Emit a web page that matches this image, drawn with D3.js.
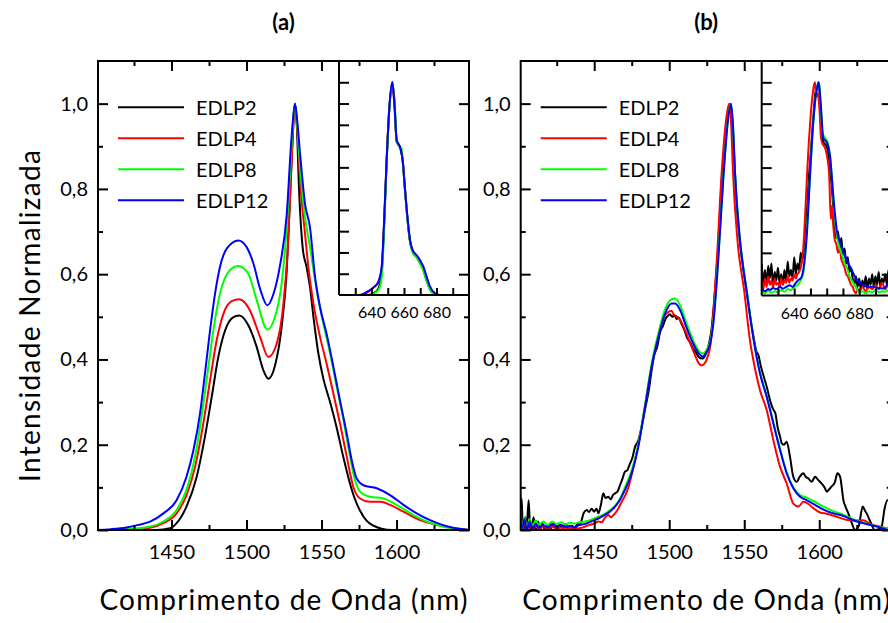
<!DOCTYPE html>
<html><head><meta charset="utf-8">
<script src="https://cdn.jsdelivr.net/npm/d3@7"></script>
<style>body{margin:0;background:#fff} svg{display:block} text{font-family:Lato,"Open Sans",sans-serif;fill:#000}</style>
</head><body><svg id="chart" width="888" height="623"></svg>
<script>
// ---------- labels ----------
const seriesNames = ["EDLP2","EDLP4","EDLP8","EDLP12"];
const seriesColors = ["#000000","#ff0000","#00ff00","#0000ff"];
const panelTitles = ["(a)","(b)"];
const xTitle = "Comprimento de Onda (nm)";
const yTitle = "Intensidade Normalizada";
const xMajorTicks = [1450,1500,1550,1600];
const xMinorTicks = [1425,1475,1525,1575,1625];
const yMajorTicks = [0,0.2,0.4,0.6,0.8,1.0];
const yMinorTicks = [0.1,0.3,0.5,0.7,0.9];
const insetXMajor = [640,660,680];
const insetXMinor = [630,650,670,690];
const insetYTicks = [0.1,0.2,0.3,0.4,0.5,0.6,0.7,0.8,0.9,1.0];

// ---------- panel (a) main spectra [nm, intensity] ----------
const a_EDLP2 = [[1401,0],[1440,0],[1449,0.004],[1453.4,0.016],[1460,0.055],[1466.8,0.125],[1472.3,0.219],[1476.8,0.312],[1481.2,0.406],[1485.7,0.468],[1490.8,0.498],[1495.2,0.503],[1501.2,0.48],[1506.8,0.429],[1511.2,0.375],[1514.6,0.355],[1519,0.386],[1523.4,0.476],[1526.8,0.609],[1529,0.78],[1530.5,0.9],[1532.3,1.0],[1533.5,0.95],[1535,0.8],[1537.5,0.66],[1540,0.617],[1542.3,0.57],[1544.6,0.5],[1547.9,0.414],[1551.2,0.355],[1555.7,0.3],[1560.1,0.24],[1564.6,0.17],[1568.5,0.115],[1572,0.075],[1575.7,0.045],[1580,0.022],[1584.6,0.01],[1590,0.003],[1597,0],[1648.3,0]];
const a_EDLP4 = [[1401,0],[1420,0.001],[1430,0.003],[1435.7,0.005],[1444.6,0.016],[1453.4,0.039],[1460,0.082],[1465.7,0.148],[1471.2,0.25],[1475.7,0.351],[1480.1,0.445],[1484.6,0.507],[1490.1,0.537],[1495.2,0.541],[1502.3,0.515],[1509,0.453],[1514.6,0.406],[1520.1,0.437],[1524.6,0.531],[1527.5,0.66],[1530,0.86],[1532.3,1.0],[1533.8,0.94],[1535.7,0.82],[1539,0.695],[1541.2,0.617],[1544.6,0.531],[1549,0.453],[1553.4,0.39],[1557.9,0.32],[1562.3,0.25],[1566.8,0.172],[1571.2,0.101],[1575.7,0.074],[1582.3,0.066],[1589,0.066],[1595.7,0.059],[1604.6,0.043],[1615.7,0.023],[1626.8,0.012],[1637.9,0.004],[1648.3,0]];
const a_EDLP8 = [[1401,0],[1420,0.002],[1435.7,0.008],[1444.6,0.02],[1453.4,0.047],[1460,0.094],[1465.7,0.172],[1470,0.265],[1474.6,0.383],[1477.9,0.468],[1482.3,0.554],[1487.9,0.605],[1494.5,0.619],[1501.2,0.601],[1506.8,0.539],[1513.9,0.47],[1519,0.5],[1523.4,0.578],[1527,0.72],[1530,0.9],[1532.3,1.0],[1533.8,0.95],[1535.7,0.85],[1539,0.734],[1542.3,0.664],[1546.8,0.562],[1551.2,0.484],[1555.7,0.414],[1560.1,0.336],[1564.6,0.258],[1569,0.172],[1572.3,0.117],[1575.7,0.09],[1582.3,0.078],[1591.2,0.074],[1600.1,0.059],[1611.2,0.035],[1622.3,0.017],[1633.4,0.006],[1644.6,0.001],[1648.3,0]];
const a_EDLP12 = [[1401,0],[1410,0.002],[1420,0.006],[1428,0.012],[1435.7,0.0195],[1444.6,0.039],[1453.4,0.07],[1460,0.125],[1464.6,0.187],[1469,0.273],[1472.3,0.367],[1475.7,0.468],[1479,0.554],[1482.3,0.617],[1486.8,0.66],[1494.6,0.679],[1500,0.664],[1504.6,0.625],[1509,0.566],[1513.9,0.527],[1518,0.554],[1522.3,0.62],[1526.8,0.74],[1530,0.92],[1532.3,1.0],[1533.8,0.96],[1535.7,0.882],[1539,0.765],[1542.3,0.71],[1545.7,0.593],[1549,0.523],[1553.4,0.46],[1557.9,0.383],[1562.3,0.304],[1566.8,0.226],[1570.1,0.164],[1573.4,0.121],[1577.9,0.105],[1586.8,0.098],[1595.7,0.082],[1604.6,0.059],[1613.4,0.039],[1622.3,0.023],[1633.4,0.009],[1644.6,0.0015],[1648.3,0]];

// ---------- panel (a) inset [nm, intensity] ----------
const ai_EDLP2 = [[620,0],[638,0],[640,0.004],[642.5,0.015],[644.5,0.035],[646.3,0.11],[647.7,0.32],[649.3,0.625],[651,0.88],[652.8,1.0],[654.1,0.91],[655.5,0.725],[656.5,0.71],[657.9,0.688],[659.2,0.63],[660.6,0.495],[662.1,0.36],[663.7,0.252],[665.3,0.205],[667.8,0.178],[669.8,0.152],[671.9,0.118],[673.9,0.068],[676,0.027],[678.5,0.005],[680.5,0],[700,0]];
const ai_EDLP4 = [[620,0],[634,0],[636,0.006],[639,0.02],[642,0.04],[644.2,0.058],[646.3,0.13],[647.7,0.33],[649.3,0.63],[651,0.88],[652.8,0.985],[654.1,0.89],[655.5,0.72],[656.5,0.705],[657.9,0.685],[659.2,0.63],[660.6,0.5],[662.1,0.365],[663.7,0.256],[665.3,0.21],[667.8,0.185],[669.8,0.162],[671.9,0.13],[673.9,0.083],[676,0.036],[679.1,0.007],[682,0],[700,0]];
const ai_EDLP8 = [[620,0],[638,0],[641,0.005],[643,0.015],[645,0.035],[646.5,0.1],[647.7,0.3],[649.3,0.62],[651,0.88],[652.8,0.99],[654.1,0.92],[655.5,0.72],[657.1,0.7],[658.6,0.685],[659.2,0.63],[660.6,0.49],[662.1,0.36],[663.7,0.25],[665.3,0.2],[667.8,0.175],[669.8,0.15],[671.9,0.115],[673.9,0.065],[676,0.025],[678,0.005],[680,0],[700,0]];
const ai_EDLP12 = [[620,0],[632,0],[634,0.003],[637,0.014],[641.1,0.035],[644.2,0.062],[646.3,0.133],[647.7,0.336],[649.3,0.633],[651,0.883],[652.8,1.0],[654.1,0.9],[655.5,0.727],[656.5,0.711],[657.9,0.688],[659.2,0.633],[660.6,0.5],[662.1,0.367],[663.7,0.258],[665.3,0.211],[667.8,0.187],[669.8,0.164],[671.9,0.133],[673.9,0.086],[676,0.039],[679.1,0.008],[682.2,0],[700,0]];

// ---------- panel (b) main spectra [nm, intensity] ----------
const b_EDLP2 = [[1401,0],[1401.6,0.074],[1402.3,0.01],[1403,0],[1404,0.03],[1405,0.005],[1406.3,0.07],[1407.3,0.005],[1408.5,0],[1409.5,0.03],[1411,0],[1412.5,0.02],[1414,0.002],[1415.5,0.015],[1417,0],[1419,0.012],[1421,0.003],[1423,0.016],[1425,0.002],[1427,0.012],[1429,0.004],[1431,0.014],[1433,0.003],[1435,0.01],[1437,0.005],[1439,0.015],[1440.5,0.012],[1441.6,0.023],[1443,0.04],[1445,0.047],[1446.5,0.042],[1448.3,0.05],[1450,0.043],[1451.5,0.05],[1452.8,0.039],[1454.5,0.06],[1456.1,0.086],[1457.5,0.075],[1459.4,0.078],[1461,0.072],[1462.5,0.082],[1463.9,0.086],[1465.5,0.09],[1467.2,0.105],[1468.8,0.12],[1470.5,0.137],[1472,0.14],[1473.9,0.156],[1475.5,0.17],[1477.2,0.195],[1479.4,0.21],[1481.6,0.242],[1484,0.285],[1486.5,0.33],[1488.3,0.375],[1490,0.41],[1492,0.43],[1494,0.465],[1496,0.48],[1497.5,0.495],[1499,0.502],[1500.5,0.506],[1502,0.5],[1503.5,0.504],[1505,0.495],[1506.5,0.498],[1508,0.485],[1510,0.47],[1512,0.45],[1514,0.44],[1516,0.425],[1518,0.415],[1520,0.405],[1522,0.402],[1524,0.41],[1526,0.43],[1528,0.465],[1530,0.54],[1532.5,0.66],[1535,0.82],[1537.5,0.93],[1539.5,0.985],[1540.8,1.0],[1542,0.96],[1543.5,0.86],[1545,0.76],[1547,0.68],[1549.5,0.61],[1552,0.55],[1554,0.5],[1556.1,0.455],[1558,0.42],[1559.5,0.41],[1561,0.385],[1563,0.36],[1565,0.336],[1567.2,0.304],[1569,0.285],[1570.8,0.273],[1572.3,0.24],[1573.9,0.219],[1575,0.203],[1576.5,0.2],[1578.3,0.207],[1580.5,0.172],[1582.7,0.125],[1585,0.113],[1587,0.125],[1589.4,0.133],[1591,0.125],[1592.8,0.121],[1595,0.113],[1597.2,0.125],[1599.4,0.117],[1601.6,0.109],[1603.5,0.1],[1605,0.09],[1606.5,0.095],[1608,0.101],[1610.5,0.113],[1612.1,0.133],[1613.9,0.125],[1615,0.1],[1616.1,0.07],[1617.5,0.055],[1619.4,0.039],[1621.7,0.016],[1623.9,0],[1626.2,0.008],[1629,0.055],[1630.5,0.045],[1631.6,0.039],[1634,0.02],[1637,0],[1639.5,0.002],[1641.6,0.008],[1643.6,0.051],[1645.5,0.07],[1648.3,0.06]];
const b_EDLP4 = [[1401,0.05],[1402,0],[1403.5,0.02],[1405,0],[1407,0.015],[1409,0],[1411,0.01],[1413,0.002],[1416,0.008],[1419,0.002],[1422,0.008],[1425,0.003],[1428,0.006],[1431,0.002],[1434,0.005],[1437,0.002],[1440,0.004],[1444,0.008],[1447,0.012],[1450.5,0.016],[1453,0.02],[1455,0.018],[1457,0.028],[1459.4,0.035],[1461,0.03],[1463.9,0.039],[1466,0.05],[1468.3,0.066],[1470.5,0.08],[1472.8,0.1],[1475,0.13],[1477.2,0.164],[1479.4,0.2],[1483.9,0.29],[1488.3,0.385],[1492.8,0.455],[1496.5,0.5],[1499,0.51],[1501.6,0.514],[1503,0.505],[1505.5,0.5],[1508,0.488],[1511,0.465],[1514,0.438],[1517,0.412],[1519.5,0.392],[1521.6,0.386],[1523.5,0.39],[1525.5,0.405],[1527.5,0.435],[1529,0.49],[1532,0.65],[1535,0.84],[1538.2,0.97],[1539.9,1.0],[1541.3,0.95],[1542.5,0.84],[1545.5,0.68],[1550,0.56],[1554,0.44],[1556.1,0.398],[1560.5,0.328],[1565,0.281],[1569.4,0.211],[1573.9,0.148],[1578.3,0.109],[1582.7,0.062],[1586.1,0.055],[1589.4,0.066],[1592.8,0.061],[1596.1,0.051],[1600.5,0.041],[1605,0.038],[1611.6,0.031],[1618,0.024],[1624,0.022],[1629.4,0.023],[1633.8,0.014],[1640.5,0.008],[1646,0.003],[1648.3,0]];
const b_EDLP8 = [[1401,0.02],[1402,0.005],[1403.5,0.03],[1405,0.005],[1407,0.025],[1409,0.01],[1411,0.022],[1413,0.012],[1416,0.02],[1419,0.012],[1422,0.02],[1425,0.014],[1428,0.018],[1431,0.013],[1434,0.017],[1437,0.015],[1440,0.018],[1444,0.02],[1448,0.024],[1452.8,0.031],[1456,0.036],[1460,0.045],[1463.9,0.057],[1467,0.072],[1470.5,0.1],[1475,0.14],[1479.4,0.2],[1483.9,0.295],[1488.3,0.39],[1492.8,0.462],[1497.2,0.518],[1501,0.54],[1503.9,0.543],[1507.5,0.525],[1511,0.49],[1514,0.462],[1517,0.437],[1520,0.419],[1522.3,0.414],[1525,0.423],[1527.5,0.445],[1529.4,0.49],[1532.8,0.645],[1536.1,0.83],[1539.4,0.97],[1541,1.0],[1542.5,0.95],[1543.9,0.835],[1547.2,0.68],[1551.6,0.565],[1556.1,0.45],[1560.5,0.37],[1565,0.315],[1569.4,0.253],[1573.9,0.19],[1578.3,0.135],[1582.7,0.1],[1587.2,0.082],[1591.6,0.076],[1596.1,0.068],[1602.8,0.055],[1609.4,0.044],[1616.1,0.036],[1622.8,0.025],[1631.6,0.015],[1640.5,0.007],[1646,0.002],[1648.3,0]];
const b_EDLP12 = [[1401,0.015],[1402,0.005],[1403.5,0.025],[1405,0],[1407,0.02],[1409,0.003],[1411,0.015],[1413,0.005],[1416,0.012],[1419,0.006],[1422,0.014],[1425,0.008],[1428,0.012],[1431,0.007],[1434,0.01],[1437,0.006],[1440,0.012],[1444,0.014],[1448,0.02],[1452.8,0.027],[1456,0.033],[1460,0.042],[1463.9,0.055],[1467,0.07],[1470.5,0.094],[1475,0.133],[1479.4,0.195],[1483.9,0.289],[1488.3,0.383],[1492.8,0.453],[1497.2,0.507],[1501.6,0.531],[1504,0.531],[1507.5,0.514],[1511,0.48],[1514,0.453],[1517,0.43],[1520,0.413],[1522.3,0.407],[1525,0.418],[1527.5,0.44],[1529.4,0.484],[1532.8,0.64],[1536.1,0.827],[1539.4,0.968],[1541.2,1.0],[1542.5,0.95],[1543.9,0.835],[1547.2,0.679],[1551.6,0.56],[1556.1,0.45],[1560.5,0.367],[1565,0.312],[1569.4,0.25],[1573.9,0.187],[1578.3,0.133],[1582.7,0.098],[1587.2,0.078],[1591.6,0.07],[1596.1,0.061],[1602.8,0.048],[1609.4,0.039],[1616.1,0.033],[1622.8,0.023],[1631.6,0.014],[1640.5,0.006],[1646,0],[1648.3,0]];

// ---------- panel (b) inset [nm, intensity] ----------
const bi_EDLP2 = [[620,0.15],[621,0.06],[622,0.12],[623,0.05],[624,0.14],[625,0.08],[626,0.15],[627,0.04],[628,0.11],[629,0.07],[630,0.13],[631,0.06],[632,0.1],[633,0.05],[634,0.12],[635,0.07],[636,0.16],[637,0.09],[638,0.12],[639,0.08],[640,0.18],[641,0.1],[642,0.15],[643,0.12],[644,0.2],[645,0.17],[646,0.2],[647,0.3],[648,0.42],[649,0.55],[650,0.65],[651,0.76],[652,0.86],[653,0.95],[654,0.97],[655,1.0],[656,0.9],[657,0.77],[658,0.72],[659,0.71],[660,0.7],[661,0.66],[662,0.6],[663,0.52],[664,0.42],[665,0.3],[666,0.27],[667,0.3],[668,0.22],[669,0.27],[670,0.19],[671,0.22],[672,0.15],[673,0.18],[674,0.11],[675,0.13],[676,0.08],[677,0.05],[678,0.09],[679,0.04],[680,0.08],[681,0.03],[682,0.07],[683,0.04],[684,0.09],[685,0.03],[686,0.08],[687,0.05],[688,0.1],[689,0.04],[690,0.09],[691,0.05],[692,0.11],[693,0.04],[694,0.08],[695,0.06],[696,0.1],[697,0.05],[698,0.12],[699,0.07],[700,0.11]];
const bi_EDLP4 = [[620,0.07],[621,0.03],[622,0.08],[623,0.04],[624,0.09],[625,0.05],[626,0.07],[627,0.04],[628,0.08],[629,0.05],[630,0.06],[631,0.04],[632,0.08],[633,0.05],[634,0.07],[635,0.06],[636,0.09],[637,0.06],[638,0.08],[639,0.07],[640,0.1],[641,0.08],[642,0.1],[643,0.11],[644,0.13],[645,0.17],[646,0.27],[647,0.42],[648,0.58],[649,0.72],[650,0.83],[651,0.92],[652,0.98],[652.8,1.0],[653.5,0.93],[654.5,0.95],[655.5,0.88],[656.5,0.74],[657.5,0.71],[658.5,0.7],[659.5,0.68],[660.5,0.64],[661.5,0.57],[662.5,0.36],[663,0.42],[664,0.33],[665,0.26],[666,0.24],[667,0.2],[668,0.22],[669,0.17],[670,0.15],[671,0.13],[672,0.1],[673,0.09],[674,0.07],[675,0.05],[676,0.04],[677,0.02],[678,0.01],[679,0.03],[680,0.02],[682,0.04],[684,0.02],[686,0.04],[688,0.03],[690,0.05],[692,0.03],[694,0.06],[696,0.03],[698,0.05],[700,0.04]];
const bi_EDLP8 = [[620,0.02],[622,0.01],[624,0.025],[626,0.012],[628,0.02],[630,0.015],[632,0.025],[634,0.018],[636,0.03],[638,0.025],[640,0.04],[642,0.05],[644,0.07],[645.5,0.1],[647,0.22],[648.5,0.4],[650,0.6],[651.5,0.79],[653,0.92],[654.5,0.99],[655.3,1.0],[656.3,0.9],[657.5,0.76],[659,0.74],[660.5,0.72],[662,0.66],[663.5,0.52],[665,0.36],[666.5,0.27],[668,0.22],[669.5,0.19],[671,0.15],[672.5,0.13],[674,0.09],[675.5,0.07],[677,0.05],[678.5,0.03],[680,0.015],[682,0.02],[684,0.01],[686,0.02],[688,0.015],[690,0.025],[692,0.015],[694,0.02],[696,0.018],[698,0.025],[700,0.02]];
const bi_EDLP12 = [[620,0.034],[622,0.02],[624,0.03],[625.1,0.026],[627,0.035],[629,0.03],[631.3,0.041],[633,0.032],[635,0.04],[637.4,0.048],[639,0.04],[640.5,0.055],[642.6,0.073],[644,0.08],[645.6,0.12],[647.7,0.276],[649.7,0.557],[651.8,0.82],[653.8,0.963],[655.1,1.0],[656.3,0.9],[657.9,0.74],[660.4,0.713],[662.1,0.65],[664.1,0.463],[666.2,0.307],[669.2,0.229],[672.3,0.166],[675.4,0.12],[678.5,0.073],[680.5,0.06],[682.6,0.049],[685,0.04],[688.7,0.041],[691,0.035],[694.9,0.033],[697.7,0.05],[700,0.04]];

const panelAData = [a_EDLP2,a_EDLP4,a_EDLP8,a_EDLP12];
const panelAInset = [ai_EDLP2,ai_EDLP4,ai_EDLP8,ai_EDLP12];
const panelBData = [b_EDLP2,b_EDLP4,b_EDLP8,b_EDLP12];
const panelBInset = [bi_EDLP2,bi_EDLP4,bi_EDLP8,bi_EDLP12];

// ---------- drawing ----------
const svg = d3.select("#chart");
const fmt = d => d3.format(".1f")(d).replace(".", ",");
const intFmt = d3.format("d");
const TOP = 61, BOTTOM = 530, PW = 371, INSET_W = 130;
const xDomain = [1401, 1648.3], yDomain = [0, 1.1], insetXDomain = [620, 700];

function styleAxis(sel){
  sel.select(".domain").remove();
  sel.selectAll(".tick line").attr("stroke","#000").attr("stroke-width",2);
  sel.selectAll(".tick text").attr("fill","#000");
}

function drawPanel(idx, left, data, inset, insetBottom){
  const right = left + PW;
  const g = svg.append("g");
  const x = d3.scaleLinear().domain(xDomain).range([left, right]);
  const y = d3.scaleLinear().domain(yDomain).range([BOTTOM, TOP]);
  const cid = "clip" + idx;
  svg.append("clipPath").attr("id", cid).append("rect")
    .attr("x", left).attr("y", TOP).attr("width", PW).attr("height", BOTTOM - TOP);
  const line = d3.line().x(d => x(d[0])).y(d => y(d[1])).curve(d3.curveMonotoneX);
  const lg = g.append("g").attr("clip-path", `url(#${cid})`);
  data.forEach((s, i) => lg.append("path").datum(s).attr("d", line)
    .attr("fill","none").attr("stroke", seriesColors[i]).attr("stroke-width", 2).attr("stroke-linejoin","round"));

  // inset
  const il = right - INSET_W;
  const xi = d3.scaleLinear().domain(insetXDomain).range([il, right]);
  const yi = d3.scaleLinear().domain(yDomain).range([insetBottom, TOP]);
  g.append("rect").attr("x", il).attr("y", TOP).attr("width", INSET_W).attr("height", insetBottom - TOP).attr("fill","#fff");
  const icid = "iclip" + idx;
  svg.append("clipPath").attr("id", icid).append("rect")
    .attr("x", il).attr("y", TOP).attr("width", INSET_W).attr("height", insetBottom - TOP);
  const iline = d3.line().x(d => xi(d[0])).y(d => yi(d[1])).curve(d3.curveMonotoneX);
  const ig = g.append("g").attr("clip-path", `url(#${icid})`);
  inset.forEach((s, i) => ig.append("path").datum(s).attr("d", iline)
    .attr("fill","none").attr("stroke", seriesColors[i]).attr("stroke-width", 2).attr("stroke-linejoin","round"));
  g.append("g").attr("transform",`translate(${il},0)`)
    .call(d3.axisLeft(yi).tickValues(insetYTicks).tickSizeInner(-10).tickSizeOuter(0).tickFormat(""))
    .call(styleAxis);
  g.append("g").attr("transform",`translate(0,${insetBottom})`)
    .call(d3.axisBottom(xi).tickValues(insetXMajor).tickSizeInner(-7).tickSizeOuter(0).tickPadding(12).tickFormat(intFmt))
    .call(styleAxis)
    .selectAll("text").attr("font-size",16).attr("font-family","Lato");
  g.append("g").attr("transform",`translate(0,${insetBottom})`)
    .call(d3.axisBottom(xi).tickValues(insetXMinor).tickSizeInner(-7).tickSizeOuter(0).tickFormat(""))
    .call(styleAxis);
  g.append("line").attr("x1", il).attr("x2", il).attr("y1", TOP).attr("y2", insetBottom).attr("stroke","#000").attr("stroke-width",2);
  g.append("line").attr("x1", il).attr("x2", right).attr("y1", insetBottom).attr("y2", insetBottom).attr("stroke","#000").attr("stroke-width",2);

  // main axes (ticks inward on all sides)
  g.append("g").attr("transform",`translate(0,${BOTTOM})`)
    .call(d3.axisBottom(x).tickValues(xMajorTicks).tickSizeInner(-10).tickSizeOuter(0).tickPadding(15).tickFormat(intFmt))
    .call(styleAxis).selectAll("text").attr("font-size",20).attr("font-family","Lato");
  g.append("g").attr("transform",`translate(0,${BOTTOM})`)
    .call(d3.axisBottom(x).tickValues(xMinorTicks).tickSizeInner(-5).tickSizeOuter(0).tickFormat("")).call(styleAxis);
  g.append("g").attr("transform",`translate(0,${TOP})`)
    .call(d3.axisTop(x).tickValues(xMajorTicks).tickSizeInner(-10).tickSizeOuter(0).tickFormat("")).call(styleAxis);
  g.append("g").attr("transform",`translate(0,${TOP})`)
    .call(d3.axisTop(x).tickValues(xMinorTicks).tickSizeInner(-5).tickSizeOuter(0).tickFormat("")).call(styleAxis);
  g.append("g").attr("transform",`translate(${left},0)`)
    .call(d3.axisLeft(y).tickValues(yMajorTicks).tickSizeInner(-10).tickSizeOuter(0).tickPadding(10).tickFormat(fmt))
    .call(styleAxis).selectAll("text").attr("font-size",20).attr("font-family","Lato");
  g.append("g").attr("transform",`translate(${left},0)`)
    .call(d3.axisLeft(y).tickValues(yMinorTicks).tickSizeInner(-5).tickSizeOuter(0).tickFormat("")).call(styleAxis);
  g.append("g").attr("transform",`translate(${right},0)`)
    .call(d3.axisRight(y).tickValues(yMajorTicks).tickSizeInner(-10).tickSizeOuter(0).tickFormat("")).call(styleAxis);
  g.append("g").attr("transform",`translate(${right},0)`)
    .call(d3.axisRight(y).tickValues(yMinorTicks).tickSizeInner(-5).tickSizeOuter(0).tickFormat("")).call(styleAxis);
  g.append("rect").attr("x", left).attr("y", TOP).attr("width", PW).attr("height", BOTTOM - TOP)
    .attr("fill","none").attr("stroke","#000").attr("stroke-width",2);

  // legend
  const legY0 = 107.3, legDY = 31;
  seriesNames.forEach((n, i) => {
    const yy = legY0 + i * legDY;
    g.append("line").attr("x1", left + 20).attr("x2", left + 86).attr("y1", yy).attr("y2", yy)
      .attr("stroke", seriesColors[i]).attr("stroke-width", 2);
    g.append("text").attr("x", left + 98).attr("y", yy).attr("dy","0.36em")
      .attr("font-size",20).text(n);
  });

  // titles
  const cx = (left + right) / 2;
  g.append("text").attr("x", cx).attr("y", 30).attr("text-anchor","middle")
    .attr("font-size",22).attr("font-weight","bold").text(panelTitles[idx]);
  g.append("text").attr("x", cx).attr("y", 610).attr("text-anchor","middle")
    .attr("font-size",28).attr("textLength",368).attr("lengthAdjust","spacing").text(xTitle);
}

drawPanel(0, 98, panelAData, panelAInset, 295);
drawPanel(1, 520.7, panelBData, panelBInset, 295.5);

svg.append("text").attr("transform","translate(40,316) rotate(-90)").attr("text-anchor","middle")
  .attr("font-size",28).attr("textLength",332).attr("lengthAdjust","spacing").text(yTitle);
</script></body></html>
